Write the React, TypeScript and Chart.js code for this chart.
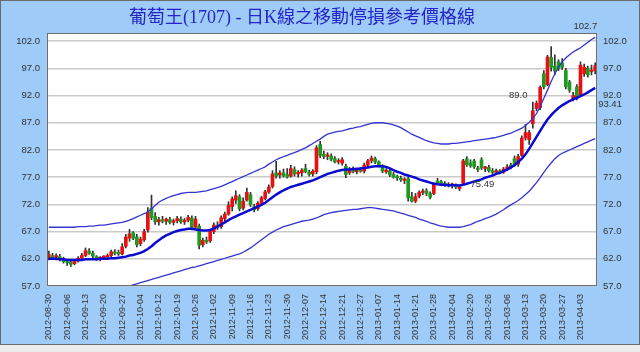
import React, { useEffect, useRef } from 'react';
import { Chart, registerables } from 'chart.js';
Chart.register(...registerables);

const TITLE = '葡萄王(1707) - 日K線之移動停損參考價格線';

const weekLabels = [
  '2012-08-30','2012-09-06','2012-09-13','2012-09-20','2012-09-27','2012-10-04','2012-10-12','2012-10-19',
  '2012-10-26','2012-11-02','2012-11-09','2012-11-16','2012-11-23','2012-11-30','2012-12-07','2012-12-14',
  '2012-12-21','2012-12-27','2013-01-07','2013-01-14','2013-01-21','2013-01-28','2013-02-04','2013-02-20',
  '2013-02-26','2013-03-06','2013-03-13','2013-03-20','2013-03-27','2013-04-03',
];
const yTicks = [57, 62, 67, 72, 77, 82, 87, 92, 97, 102];

const openP = [
  62.2,62.6,62.3,62.4,62.0,61.5,61.4,61.1,61.6,62.1,62.6,63.4,63.0,62.4,62.0,62.2,62.3,62.6,63.2,63.0,
  62.9,64.3,65.8,66.8,66.0,64.8,65.5,67.3,71.3,69.8,68.8,69.2,68.9,69.2,68.7,69.0,69.3,68.8,69.1,69.5,
  67.8,68.0,64.6,65.4,65.3,67.0,68.2,67.9,69.4,70.2,71.6,72.8,73.4,71.3,72.8,73.8,71.6,71.2,72.2,73.1,
  74.3,75.3,77.8,77.4,77.8,77.5,77.2,78.4,77.6,77.8,78.6,77.9,77.6,78.0,83.0,81.2,80.8,80.9,80.4,79.8,
  79.6,79.0,77.8,78.4,78.0,78.3,78.1,79.2,80.0,80.4,79.8,79.0,78.0,78.2,77.5,77.0,76.8,76.4,76.7,73.4,
  72.6,73.5,74.2,74.5,74.0,74.0,76.3,76.0,75.8,75.7,75.5,75.5,74.9,75.9,80.4,79.6,80.0,78.6,80.2,78.6,
  78.8,78.2,77.9,78.0,77.9,78.4,79.2,80.4,79.4,81.0,84.2,83.9,86.8,89.6,89.8,96.0,94.0,99.0,97.4,98.2,
  98.0,96.6,94.5,91.3,93.6,92.0,96.0,97.0,96.4,96.6,
];
const highP = [
  63.4,63.0,62.9,62.8,62.3,61.9,61.6,61.7,62.4,63.0,64.0,63.9,63.4,62.6,62.4,62.6,62.9,63.6,63.7,63.6,
  64.8,66.5,67.4,67.0,66.5,66.0,67.4,71.4,73.7,70.5,69.6,69.8,69.5,69.6,69.3,69.8,69.7,69.4,70.0,69.9,
  69.8,68.4,65.8,66.0,67.4,68.6,68.8,69.9,70.6,72.5,73.4,74.5,73.8,73.2,75.0,74.2,72.0,72.5,73.5,74.6,
  75.6,78.2,79.9,78.2,78.5,78.6,79.2,78.9,78.2,78.6,79.4,78.3,78.4,82.8,83.6,81.8,81.5,81.3,80.8,80.4,
  80.6,79.4,78.8,78.9,78.7,78.8,79.6,80.3,80.9,80.7,80.0,79.3,78.6,78.5,77.9,77.4,77.2,76.9,77.0,74.2,
  74.0,74.5,74.8,74.9,74.3,76.0,76.8,76.4,76.2,76.0,75.9,75.8,75.5,80.3,80.8,80.2,80.3,79.0,80.6,79.0,
  79.2,78.6,78.5,78.4,78.8,79.3,79.6,80.9,81.2,84.6,86.7,85.6,90.8,91.0,93.8,96.6,99.4,101.0,99.5,98.6,
  98.8,97.0,94.8,92.6,94.0,98.2,97.8,97.4,97.6,98.0,
];
const lowP = [
  61.8,61.9,61.8,61.6,61.2,60.8,60.6,60.9,61.4,61.9,62.4,62.8,62.2,61.7,61.6,61.9,62.0,62.4,62.7,62.6,
  62.7,64.0,65.2,65.5,64.2,64.4,65.2,66.9,69.2,68.3,68.2,68.6,68.3,68.4,68.2,68.6,68.5,68.3,68.8,67.3,
  67.5,63.8,64.2,64.8,65.0,66.6,67.4,67.6,69.0,70.0,70.8,72.2,70.8,71.0,72.6,71.6,70.6,70.9,71.9,72.8,
  74.0,75.0,76.8,76.8,77.0,76.8,77.0,77.2,77.0,77.2,77.8,77.2,77.2,77.6,80.6,80.4,80.2,80.0,79.6,79.4,
  79.2,76.9,77.5,77.8,77.6,77.9,77.8,78.9,79.6,79.5,78.9,77.8,77.7,77.1,76.8,76.4,76.2,75.8,72.6,72.4,
  72.3,73.2,73.8,73.6,73.0,73.8,75.7,75.6,75.3,75.2,75.0,74.9,74.5,75.7,79.0,78.8,78.6,78.0,78.4,78.0,
  77.9,77.6,77.5,77.6,77.7,78.2,78.5,79.0,79.0,80.8,83.8,83.0,86.0,89.2,89.4,93.2,93.8,96.5,95.8,96.6,
  96.8,93.2,92.6,91.0,91.2,91.8,95.5,95.4,95.8,96.0,
];
const closeP = [
  62.8,62.2,62.5,62.0,61.5,61.3,61.0,61.5,62.1,62.6,63.5,63.0,62.5,62.0,62.2,62.3,62.6,63.3,63.0,62.9,
  64.2,66.0,66.6,65.8,64.6,65.6,67.0,70.6,69.6,68.8,69.2,68.9,69.3,68.7,69.0,69.4,68.8,69.1,69.6,67.8,
  69.3,64.5,65.4,65.1,67.0,68.2,67.8,69.5,70.2,71.8,73.0,73.6,71.2,72.6,74.2,72.0,71.0,72.2,73.2,74.3,
  75.2,77.6,77.2,77.8,77.3,77.0,78.6,77.6,77.9,78.3,78.0,77.5,78.1,82.4,81.0,80.8,81.1,80.3,79.8,80.0,
  80.2,77.5,78.4,78.0,78.3,78.1,79.2,80.0,80.5,79.8,79.2,78.1,78.3,77.4,77.0,76.9,76.5,76.6,73.2,72.6,
  73.4,74.2,74.4,74.0,73.3,75.8,76.0,75.9,75.6,75.4,75.6,75.2,75.2,80.0,79.3,79.1,78.9,78.4,78.7,78.9,
  78.2,77.9,78.1,77.9,78.5,78.9,78.8,79.3,80.8,84.2,85.2,85.2,89.2,90.6,93.5,93.6,99.1,97.2,96.5,96.9,
  97.2,93.6,93.0,92.0,91.5,97.6,97.2,95.8,96.6,97.5,
];
const midLine = [
  62.0,62.0,62.0,61.9,61.9,61.8,61.8,61.8,61.8,61.8,61.9,61.9,61.9,61.9,62.0,62.0,
  62.0,62.1,62.1,62.2,62.3,62.4,62.6,62.7,62.9,
  63.1,63.4,63.8,64.3,64.9,65.4,
  65.9,66.3,66.6,66.9,67.1,67.3,67.4,67.5,
  67.5,67.4,67.3,67.2,67.2,67.3,67.6,
  67.9,68.3,68.7,69.1,69.5,69.8,70.1,
  70.4,70.7,71.0,71.3,71.6,71.9,72.3,72.8,
  73.3,73.8,74.2,74.6,74.9,75.2,75.4,75.6,
  75.8,76.0,76.2,76.4,76.7,77.0,77.3,
  77.6,77.8,78.0,78.2,78.3,78.4,78.4,78.5,78.5,78.6,
  78.7,78.8,78.9,79.0,79.0,79.0,78.9,
  78.6,78.3,78.0,77.8,77.5,77.3,77.1,76.9,
  76.6,76.4,76.2,76.0,75.8,75.7,
  75.6,75.6,75.5,75.5,75.5,75.49,75.6,
  75.8,76.0,76.2,76.4,76.6,76.9,77.1,77.3,
  77.6,77.8,78.1,78.4,78.8,79.2,79.8,
  80.4,81.2,82.2,83.3,84.4,85.5,86.6,
  87.6,88.4,89.1,89.7,90.2,90.6,91.0,
  91.3,91.6,91.9,92.2,92.6,93.0,93.41,
];
const upperBand = [
  67.8,67.8,67.8,67.8,67.8,67.8,67.8,67.8,67.9,67.9,67.9,68.0,68.0,68.1,68.2,68.2,
  68.3,68.4,68.5,68.6,68.7,68.9,69.1,69.4,69.7,
  70.0,70.3,70.6,71.2,71.8,72.4,
  72.8,73.1,73.4,73.6,73.8,74.0,74.1,74.2,
  74.2,74.2,74.3,74.4,74.5,74.7,74.9,
  75.1,75.3,75.6,75.9,76.2,76.5,76.8,
  77.1,77.4,77.7,78.0,78.3,78.6,78.9,79.4,
  79.8,80.2,80.5,80.8,81.0,81.3,81.5,81.8,
  82.1,82.4,82.8,83.2,83.6,84.0,84.5,
  84.9,85.1,85.3,85.4,85.5,85.7,85.9,86.0,86.2,86.3,
  86.5,86.7,86.9,87.0,87.0,87.0,86.9,
  86.8,86.6,86.4,86.1,85.7,85.3,84.9,84.6,
  84.3,84.0,83.7,83.5,83.3,83.2,
  83.1,83.1,83.1,83.2,83.2,83.3,83.4,
  83.5,83.6,83.7,83.8,83.9,84.0,84.1,84.2,
  84.3,84.5,84.7,84.9,85.1,85.4,85.7,
  86.0,86.5,87.1,87.8,88.7,90.0,91.5,
  93.0,94.6,96.0,97.2,98.2,98.9,99.5,
  100.0,100.4,100.8,101.3,101.8,102.3,102.7,
];
const lowerBand = [
  null,null,null,null,null,null,null,null,null,null,null,null,null,null,null,null,
  null,null,null,null,null,56.9,57.0,57.2,57.4,
  57.6,57.8,58.0,58.2,58.4,58.6,
  58.8,59.0,59.2,59.4,59.6,59.8,60.0,60.2,
  60.4,60.5,60.7,60.9,61.1,61.3,61.5,
  61.7,61.9,62.1,62.3,62.5,62.7,62.9,
  63.2,63.6,64.0,64.5,65.0,65.5,66.0,66.5,
  66.9,67.3,67.6,67.9,68.1,68.3,68.5,68.7,
  68.9,69.0,69.1,69.3,69.5,69.8,70.1,
  70.3,70.5,70.6,70.7,70.8,70.9,71.0,71.1,71.1,71.2,
  71.3,71.4,71.4,71.3,71.2,71.1,71.0,
  70.9,70.8,70.6,70.4,70.2,70.0,69.8,69.6,
  69.3,69.1,68.9,68.6,68.4,68.2,
  68.0,67.9,67.8,67.8,67.8,67.8,67.9,
  68.1,68.3,68.6,68.9,69.1,69.4,69.6,69.9,
  70.2,70.6,71.0,71.5,71.9,72.3,72.7,
  73.2,73.8,74.4,75.2,76.0,76.9,77.9,
  78.8,79.6,80.4,81.0,81.4,81.7,82.0,
  82.3,82.6,82.9,83.2,83.5,83.8,84.1,
];

const labelFont = "Arial, 'Liberation Sans', sans-serif";

export default function App() {
  const ref = useRef<HTMLCanvasElement | null>(null);
  useEffect(() => {
    document.body.style.margin = '0';
    const canvas = ref.current;
    if (!canvas) return;
    const n = openP.length;
    const categories = openP.map((_, i) => (i % 5 === 0 ? weekLabels[i / 5] : ''));
    const bodyColors = openP.map((o, i) => (closeP[i] >= o ? '#e81010' : '#1f9a1f'));

    const decor = {
      id: 'decor',
      beforeDraw(chart: any) {
        const { ctx, chartArea: a } = chart;
        ctx.save();
        ctx.fillStyle = '#ececec';
        ctx.fillRect(0, 0, 640, 352);
        ctx.fillStyle = '#9ecbf7';
        ctx.fillRect(1, 1, 638, 343);
        ctx.strokeStyle = '#6a6a6a';
        ctx.lineWidth = 1;
        ctx.strokeRect(0.5, 0.5, 639, 344);
        ctx.fillStyle = '#ffffff';
        ctx.fillRect(a.left, a.top, a.right - a.left, a.bottom - a.top);
        ctx.restore();
      },
      afterDraw(chart: any) {
        const { ctx, chartArea: a, scales } = chart;
        const xs = scales.x, ys = scales.y;
        ctx.save();
        ctx.strokeStyle = '#707070';
        ctx.lineWidth = 1;
        ctx.strokeRect(a.left + 0.5, a.top + 0.5, a.right - a.left - 1, a.bottom - a.top - 1);
        ctx.fillStyle = '#2424c8';
        ctx.font = "18px 'Liberation Serif', 'Noto Sans CJK TC', serif";
        ctx.textAlign = 'center';
        ctx.textBaseline = 'middle';
        ctx.fillText(TITLE, 302, 18);
        ctx.fillStyle = '#333333';
        ctx.font = '9.5px ' + labelFont;
        ctx.textAlign = 'right';
        ctx.fillText('102.7', xs.getPixelForValue(n - 1) + 2, ys.getPixelForValue(upperBand[n - 1]) - 11);
        ctx.textAlign = 'left';
        ctx.fillText('93.41', xs.getPixelForValue(n - 1) + 3, ys.getPixelForValue(midLine[n - 1]) + 16);
        ctx.fillText('75.49', xs.getPixelForValue(112) + 11, ys.getPixelForValue(75.49) - 1);
        ctx.textAlign = 'center';
        ctx.fillText('89.0', xs.getPixelForValue(128), ys.getPixelForValue(92.1));
        ctx.restore();
      },
    };

    const yCommon = {
      min: 57,
      max: 103.5,
      afterBuildTicks: (s: any) => {
        s.ticks = yTicks.map((v) => ({ value: v }));
      },
      border: { display: false },
    };

    const chart = new Chart(canvas, {
      type: 'bar',
      data: {
        labels: categories,
        datasets: [
          {
            type: 'line',
            data: midLine,
            borderColor: '#0a0ad0',
            borderWidth: 2.5,
            pointRadius: 0,
            order: 0,
          } as any,
          {
            type: 'line',
            data: upperBand,
            borderColor: '#3434d2',
            borderWidth: 1.3,
            pointRadius: 0,
            order: 0,
          } as any,
          {
            type: 'line',
            data: lowerBand,
            borderColor: '#3434d2',
            borderWidth: 1.3,
            pointRadius: 0,
            order: 0,
          } as any,
          {
            data: openP.map((o, i) => [o, closeP[i]]),
            backgroundColor: bodyColors,
            barThickness: 3,
            minBarLength: 1.5,
            grouped: false,
            order: 1,
          } as any,
          {
            data: lowP.map((l, i) => [l, highP[i]]),
            backgroundColor: '#333333',
            barThickness: 1,
            grouped: false,
            order: 2,
          } as any,
        ],
      },
      options: {
        animation: false,
        responsive: false,
        maintainAspectRatio: false,
        layout: { padding: { top: 33, left: 0, right: 0, bottom: 0 } },
        plugins: { legend: { display: false }, tooltip: { enabled: false }, title: { display: false } },
        scales: {
          x: {
            grid: { display: false },
            border: { display: false },
            ticks: {
              autoSkip: false,
              minRotation: 90,
              maxRotation: 90,
              padding: 0,
              color: '#333333',
              font: { family: labelFont, size: 9 },
              callback: (_v: any, i: number) => (i % 5 === 0 ? weekLabels[i / 5] : ''),
            },
            afterFit: (s: any) => {
              s.height = 66;
            },
          },
          y: {
            ...yCommon,
            position: 'left',
            grid: { color: '#c9c9c9', lineWidth: 1.5, drawTicks: false },
            ticks: {
              padding: 7,
              color: '#333333',
              font: { family: labelFont, size: 9.5 },
              callback: (v: any) => Number(v).toFixed(1),
            },
            afterFit: (s: any) => {
              s.width = 47;
            },
          },
          y2: {
            ...yCommon,
            position: 'right',
            grid: { display: false, drawTicks: false },
            ticks: {
              padding: 6,
              color: '#333333',
              font: { family: labelFont, size: 9.5 },
              callback: (v: any) => Number(v).toFixed(1),
            },
            afterFit: (s: any) => {
              s.width = 43;
            },
          },
        },
      } as any,
      plugins: [decor],
    });
    return () => chart.destroy();
  }, []);
  return <canvas ref={ref} width={640} height={352} style={{ display: 'block' }} />;
}
